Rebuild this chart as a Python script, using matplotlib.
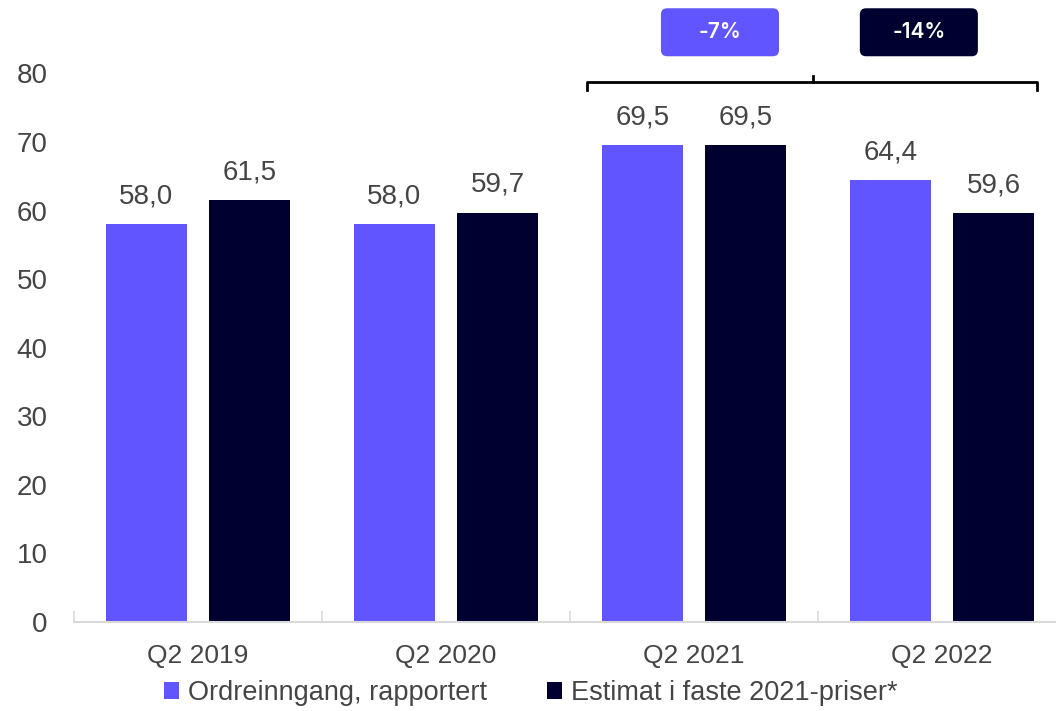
import matplotlib
matplotlib.use("Agg")
import matplotlib.pyplot as plt
from matplotlib.patches import FancyBboxPatch
import numpy as np

plt.rcParams['font.family'] = ['Liberation Sans', 'DejaVu Sans']

categories = ["Q2 2019", "Q2 2020", "Q2 2021", "Q2 2022"]
reported = [58.0, 58.0, 69.5, 64.4]
fixed_prices = [61.5, 59.7, 69.5, 59.6]
series_names = ["Ordreinngang, rapportert", "Estimat i faste 2021-priser*"]
yticks = [0, 10, 20, 30, 40, 50, 60, 70, 80]
change_labels = ["-7%", "-14%"]

PURPLE = "#6155FF"
DARK = "#000030"
TXT = "#454545"

fig = plt.figure(figsize=(10.56, 7.11), dpi=100)
ax = fig.add_axes([0.070, 0.1252, 0.930, 0.868])

x = np.arange(len(categories))
w = 0.327
off = 0.208
b1 = ax.bar(x - off, reported, w, color=PURPLE, label=series_names[0], zorder=2)
b2 = ax.bar(x + off, fixed_prices, w, color=DARK, label=series_names[1], zorder=2)

def fmt(v):
    return f"{v:.1f}".replace(".", ",")

for bars, vals in ((b1, reported), (b2, fixed_prices)):
    for r, v in zip(bars, vals):
        ax.annotate(fmt(v), (r.get_x() + r.get_width() / 2, v),
                    xytext=(0, 15), textcoords="offset points",
                    ha="center", va="baseline", fontsize=20, color=TXT)

ax.set_xlim(-0.5, 3.46)
ax.set_ylim(0, 90)
ax.set_yticks(yticks)
ax.set_yticklabels([str(t) for t in yticks])
ax.set_xticks(x)
ax.set_xticklabels(categories)
ax.set_xticks(np.arange(len(categories)) - 0.5, minor=True)
ax.tick_params(axis="x", which="major", length=0, pad=16, labelsize=19, labelcolor=TXT)
ax.tick_params(axis="x", which="minor", length=8, direction="in", color="#d9d9d9", width=1.2)
ax.tick_params(axis="y", length=0, pad=19, labelsize=20, labelcolor=TXT)
for lbl in ax.get_yticklabels():
    lbl.set_horizontalalignment("right")
for s in ("top", "right", "left"):
    ax.spines[s].set_visible(False)
ax.spines["bottom"].set_color("#d9d9d9")
ax.spines["bottom"].set_linewidth(1.5)

# bracket
bl, br, by, bd = 1.569, 3.383, 78.7, 77.6
ax.plot([bl, bl, br, br], [bd, by, by, bd], color="black", lw=2, clip_on=False, zorder=3)
ax.plot([2.48, 2.48], [by, 79.6], color="black", lw=2, clip_on=False, zorder=3)

# change boxes
for cx, lab, col in ((2.105, change_labels[0], PURPLE), (2.907, change_labels[1], DARK)):
    bw, y0, y1 = 0.476, 82.5, 89.5
    p = FancyBboxPatch((cx - bw / 2, y0), bw, y1 - y0,
                       boxstyle="round,pad=0,rounding_size=0.025",
                       mutation_aspect=36, facecolor=col, edgecolor="none",
                       clip_on=False, zorder=3)
    ax.add_patch(p)
    ax.text(cx, (y0 + y1) / 2, lab, ha="center", va="center", color="white",
            fontsize=15, fontweight="semibold",
            family=["Inter", "Liberation Sans", "DejaVu Sans"], zorder=4)

fig.legend(handles=[b1, b2], labels=series_names, loc="center",
           bbox_to_anchor=(531 / 1056, 1 - 693 / 711), ncol=2, frameon=False,
           fontsize=19.5, labelcolor=TXT, handlelength=0.55, handleheight=0.55,
           handletextpad=0.35, columnspacing=2.2, borderaxespad=0)

fig.savefig("out.png", dpi=100)
